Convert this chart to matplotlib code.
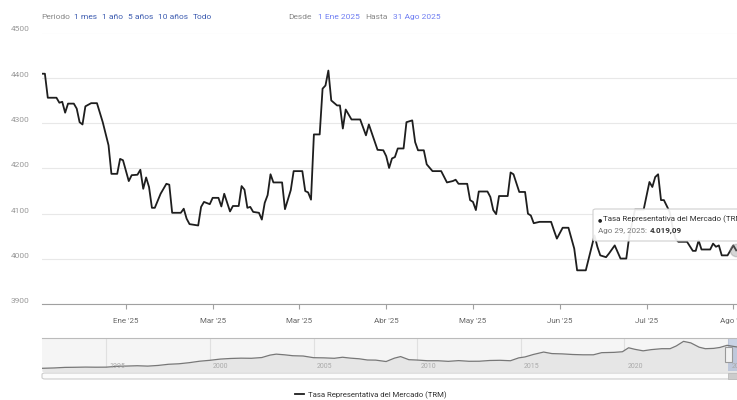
import datetime as dt
import matplotlib
matplotlib.use("Agg")
import matplotlib.pyplot as plt
import matplotlib.transforms as mtransforms
from matplotlib.patches import FancyBboxPatch, Rectangle

plt.rcParams['font.family'] = ['Roboto', 'DejaVu Sans']

# TRM diaria 2025
fechas = [
    "2025-01-01", "2025-01-02", "2025-01-03", "2025-01-06", "2025-01-07", "2025-01-08",
    "2025-01-09", "2025-01-10", "2025-01-12", "2025-01-13", "2025-01-14", "2025-01-15",
    "2025-01-16", "2025-01-18", "2025-01-20", "2025-01-22", "2025-01-24", "2025-01-25",
    "2025-01-27", "2025-01-28", "2025-01-29", "2025-01-31", "2025-02-01", "2025-02-03",
    "2025-02-04", "2025-02-05", "2025-02-06", "2025-02-07", "2025-02-08", "2025-02-09",
    "2025-02-11", "2025-02-13", "2025-02-14", "2025-02-15", "2025-02-18", "2025-02-19",
    "2025-02-20", "2025-02-21", "2025-02-24", "2025-02-25", "2025-02-26", "2025-02-28",
    "2025-03-01", "2025-03-03", "2025-03-04", "2025-03-05", "2025-03-07", "2025-03-08",
    "2025-03-10", "2025-03-11", "2025-03-12", "2025-03-13", "2025-03-14", "2025-03-15",
    "2025-03-17", "2025-03-18", "2025-03-19", "2025-03-20", "2025-03-21", "2025-03-22",
    "2025-03-25", "2025-03-26", "2025-03-28", "2025-03-29", "2025-04-01", "2025-04-02",
    "2025-04-03", "2025-04-04", "2025-04-05", "2025-04-07", "2025-04-08", "2025-04-09",
    "2025-04-10", "2025-04-11", "2025-04-13", "2025-04-14", "2025-04-15", "2025-04-16",
    "2025-04-18", "2025-04-21", "2025-04-23", "2025-04-24", "2025-04-27", "2025-04-29",
    "2025-04-30", "2025-05-01", "2025-05-02", "2025-05-03", "2025-05-04", "2025-05-06",
    "2025-05-07", "2025-05-09", "2025-05-10", "2025-05-11", "2025-05-13", "2025-05-14",
    "2025-05-16", "2025-05-19", "2025-05-21", "2025-05-23", "2025-05-24", "2025-05-25",
    "2025-05-28", "2025-05-29", "2025-05-30", "2025-05-31", "2025-06-01", "2025-06-04",
    "2025-06-05", "2025-06-06", "2025-06-07", "2025-06-08", "2025-06-11", "2025-06-12",
    "2025-06-13", "2025-06-15", "2025-06-17", "2025-06-18", "2025-06-19", "2025-06-20",
    "2025-06-22", "2025-06-26", "2025-06-27", "2025-06-28", "2025-06-30", "2025-07-02",
    "2025-07-04", "2025-07-05", "2025-07-08", "2025-07-11", "2025-07-12", "2025-07-13",
    "2025-07-15", "2025-07-16", "2025-07-18", "2025-07-20", "2025-07-22", "2025-07-23",
    "2025-07-25", "2025-07-28", "2025-07-30", "2025-07-31", "2025-08-01", "2025-08-02",
    "2025-08-03", "2025-08-04", "2025-08-06", "2025-08-07", "2025-08-08", "2025-08-09",
    "2025-08-12", "2025-08-14", "2025-08-15", "2025-08-16", "2025-08-17", "2025-08-20",
    "2025-08-21", "2025-08-22", "2025-08-23", "2025-08-24", "2025-08-26", "2025-08-28",
    "2025-08-29",
]
trm = [
    4409, 4409, 4356, 4356, 4345, 4347,
    4323, 4343, 4343, 4332, 4302, 4297,
    4337, 4344, 4344, 4302, 4251, 4188,
    4188, 4221, 4218, 4172, 4185, 4186,
    4197, 4155, 4180, 4159, 4113, 4113,
    4144, 4166, 4164, 4102, 4102, 4111,
    4089, 4077, 4074, 4115, 4126, 4121,
    4135, 4135, 4116, 4144, 4105, 4117,
    4117, 4161, 4153, 4113, 4115, 4104,
    4102, 4087, 4124, 4141, 4187, 4169,
    4169, 4110, 4152, 4194, 4194, 4150,
    4147, 4131, 4275, 4275, 4376, 4383,
    4416, 4350, 4339, 4339, 4288, 4330,
    4308, 4308, 4273, 4297, 4241, 4240,
    4227, 4201, 4222, 4225, 4244, 4244,
    4302, 4306, 4258, 4240, 4240, 4209,
    4194, 4194, 4169, 4172, 4175, 4166,
    4166, 4130, 4126, 4108, 4149, 4149,
    4137, 4108, 4099, 4139, 4139, 4191,
    4187, 4148, 4148, 4100, 4096, 4079,
    4082, 4082, 4063, 4045, 4069, 4069,
    4023, 3975, 3975, 4052, 4027, 4008,
    4004, 4012, 4030, 4001, 4001, 4049,
    4109, 4109, 4170, 4159, 4181, 4187,
    4130, 4130, 4104, 4070, 4045, 4038,
    4038, 4018, 4018, 4041, 4021, 4021,
    4034, 4027, 4030, 4008, 4008, 4030,
    4019.09,
]

tick_fechas = ["2025-01-30", "2025-03-01", "2025-03-31", "2025-04-30",
               "2025-05-30", "2025-06-29", "2025-07-29", "2025-08-28"]
tick_labels = ["Ene '25", "Mar '25", "Mar '25", "Abr '25",
               "May '25", "Jun '25", "Jul '25", "Ago '25"]
y_ticks = [3900, 4000, 4100, 4200, 4300, 4400, 4500]

# historia completa para el navegador
nav_anios = [1991.9, 1992.5, 1993.0, 1993.5, 1994.0, 1994.5, 1995.0, 1995.5, 1996.0,
             1996.5, 1997.0, 1997.5, 1998.0, 1998.5, 1999.0, 1999.5, 2000.0, 2000.5,
             2001.0, 2001.5, 2002.0, 2002.5, 2002.9, 2003.2, 2003.6, 2004.0, 2004.5,
             2005.0, 2005.5, 2006.0, 2006.4, 2006.8, 2007.2, 2007.6, 2008.0, 2008.5,
             2008.9, 2009.2, 2009.6, 2010.0, 2010.5, 2011.0, 2011.5, 2012.0, 2012.5,
             2013.0, 2013.5, 2014.0, 2014.5, 2014.9, 2015.2, 2015.6, 2016.1, 2016.5,
             2017.0, 2017.5, 2018.0, 2018.5, 2018.9, 2019.5, 2019.9, 2020.2, 2020.5,
             2020.9, 2021.3, 2021.8, 2022.2, 2022.5, 2022.85, 2023.2, 2023.6, 2023.9,
             2024.3, 2024.6, 2024.95, 2025.3, 2025.66]
nav_trm = [640, 700, 790, 810, 840, 820, 830, 960, 1010,
           1060, 1000, 1110, 1300, 1380, 1560, 1800, 1950, 2150,
           2250, 2300, 2280, 2400, 2800, 2960, 2850, 2700, 2650,
           2380, 2350, 2280, 2450, 2300, 2200, 2000, 1980, 1750,
           2300, 2560, 2050, 1990, 1880, 1880, 1780, 1900, 1790,
           1800, 1920, 1950, 1880, 2350, 2500, 2900, 3300, 3050,
           3000, 2900, 2850, 2850, 3200, 3250, 3350, 4000, 3750,
           3500, 3700, 3850, 3850, 4300, 5050, 4800, 4100, 3850,
           3900, 4050, 4400, 4200, 4020]
nav_ticks = [1995, 2000, 2005, 2010, 2015, 2020, 2025]
sel_desde = 2025.0

meses = ['Ene', 'Feb', 'Mar', 'Abr', 'May', 'Jun', 'Jul', 'Ago', 'Sep', 'Oct', 'Nov', 'Dic']

W, H = 737, 400
fig = plt.figure(figsize=(W / 100, H / 100), dpi=100)


def fx(px):
    return px / W


def fy(py):
    return 1 - py / H


def box(x0, y0, x1, y1):
    return [fx(x0), fy(y1), fx(x1) - fx(x0), fy(y0) - fy(y1)]


# ---- grafico principal
ax = fig.add_axes(box(42, 32.5, 742, 304.3))
x = [dt.datetime.strptime(f, "%Y-%m-%d") for f in fechas]
linea, = ax.plot(x, trm, color='#1e1e1e', lw=1.3, solid_joinstyle='round',
                 label='Tasa Representativa del Mercado (TRM)')
ax.scatter([x[-1]], [trm[-1]], s=80, color='#888888', alpha=0.35, zorder=5, clip_on=False)
ax.set_xlim(dt.datetime(2025, 1, 1), dt.datetime(2025, 8, 31))
ax.set_ylim(3900, 4500)
ax.set_yticks(y_ticks)
ax.set_xticks([dt.datetime.strptime(f, "%Y-%m-%d") for f in tick_fechas], tick_labels)
ax.grid(axis='y', color='#e8e8e8', lw=0.8)
ax.set_axisbelow(True)
for s in ['top', 'right', 'left']:
    ax.spines[s].set_visible(False)
ax.spines['bottom'].set_color('#a0a0a0')
ax.tick_params(axis='y', length=0, pad=9, labelsize=6, labelcolor='#999999')
ax.tick_params(axis='x', length=3.6, width=0.8, color='#a0a0a0', pad=6,
               labelsize=5.8, labelcolor='#666666')
off = mtransforms.ScaledTranslation(0, 0.035, fig.dpi_scale_trans)
for lbl in ax.get_yticklabels():
    lbl.set_transform(lbl.get_transform() + off)

# ---- barra superior (selector de periodo)
fs = 6
fig.text(fx(41), fy(17), "Periodo", fontsize=fs, color='#888888', va='center')
for txt, px in [("1 mes", 74), ("1 año", 102), ("5 años", 128), ("10 años", 158), ("Todo", 193)]:
    fig.text(fx(px), fy(17), txt, fontsize=fs, color='#3d5cb0', va='center')
fig.text(fx(288), fy(17), "Desde", fontsize=fs, color='#888888', va='center')
fig.text(fx(318), fy(17), "1 Ene 2025", fontsize=fs, color='#6f7ef2', va='center')
fig.text(fx(365), fy(17), "Hasta", fontsize=fs, color='#888888', va='center')
fig.text(fx(393), fy(17), "31 Ago 2025", fontsize=fs, color='#6f7ef2', va='center')

# ---- tooltip
tip = FancyBboxPatch((fx(593), fy(241)), fx(160), 32 / H,
                     boxstyle="round,pad=0,rounding_size=0.004",
                     transform=fig.transFigure, fc='white', ec='#cccccc', lw=0.8,
                     alpha=0.92, zorder=10)
fig.add_artist(tip)
fig.text(fx(598), fy(219.5), "●", fontsize=3.5, color='#222222', va='center', zorder=11)
fig.text(fx(603), fy(219.5), linea.get_label(), fontsize=5.8, color='#333333',
         va='center', zorder=11)
ult = x[-1]
t_fecha = fig.text(fx(598), fy(231), f"{meses[ult.month - 1]} {ult.day}, {ult.year}:",
                   fontsize=5.8, color='#777777', va='center', zorder=11)
valor = f"{trm[-1]:,.2f}".replace(",", "X").replace(".", ",").replace("X", ".")
fig.canvas.draw()
bb = t_fecha.get_window_extent()
fig.text(bb.x1 / W + fx(3), fy(231), valor, fontsize=5.8, color='#333333',
         fontweight='bold', va='center', zorder=11)

# ---- navegador
nav = fig.add_axes(box(42, 338, 742, 371))
nav.set_facecolor('#f5f5f5')
nav.fill_between(nav_anios, nav_trm, 0, color='#e6e6e6', lw=0)
nav.plot(nav_anios, nav_trm, color='#777777', lw=0.9)
nav.set_xlim(1991.9, 2025.67)
nav.set_ylim(200, 5600)
for yr in nav_ticks:
    nav.axvline(yr, color='#e0e0e0', lw=0.8, zorder=0)
    nav.text(yr + 0.15, 0.13, str(yr), transform=nav.get_xaxis_transform(),
             fontsize=5, color='#aaaaaa', va='center', ha='left')
nav.axvspan(sel_desde, 2025.67, color=(102 / 255, 133 / 255, 194 / 255), alpha=0.3, lw=0)
nav.set_xticks([])
nav.set_yticks([])
for s in ['bottom', 'left', 'right']:
    nav.spines[s].set_visible(False)
nav.spines['top'].set_color('#bbbbbb')
hw = 7 / (700 / (2025.67 - 1991.9))
nav.add_patch(Rectangle((sel_desde - hw / 2, 0.28), hw, 0.46, transform=nav.get_xaxis_transform(),
                        fc='#f2f2f2', ec='#999999', lw=0.8, zorder=6, clip_on=False))

# ---- barra de desplazamiento
sb = FancyBboxPatch((fx(42), fy(379)), fx(705), 6 / H,
                    boxstyle="round,pad=0,rounding_size=0.004",
                    transform=fig.transFigure, fc='#fbfbfb', ec='#cccccc', lw=0.8)
fig.add_artist(sb)
x_sel = nav.transData.transform((sel_desde, 0))[0]
fig.add_artist(Rectangle((x_sel / W, fy(379)), fx(16), 6 / H, transform=fig.transFigure,
                         fc='#cccccc', ec='#bbbbbb', lw=0.6))

# ---- leyenda
fig.legend(handles=[linea], loc='center', bbox_to_anchor=(fx(371), fy(395)),
           frameon=False, fontsize=5.6, handlelength=1.2, handletextpad=0.5,
           labelcolor='#333333')

fig.savefig("out.png", dpi=100)
